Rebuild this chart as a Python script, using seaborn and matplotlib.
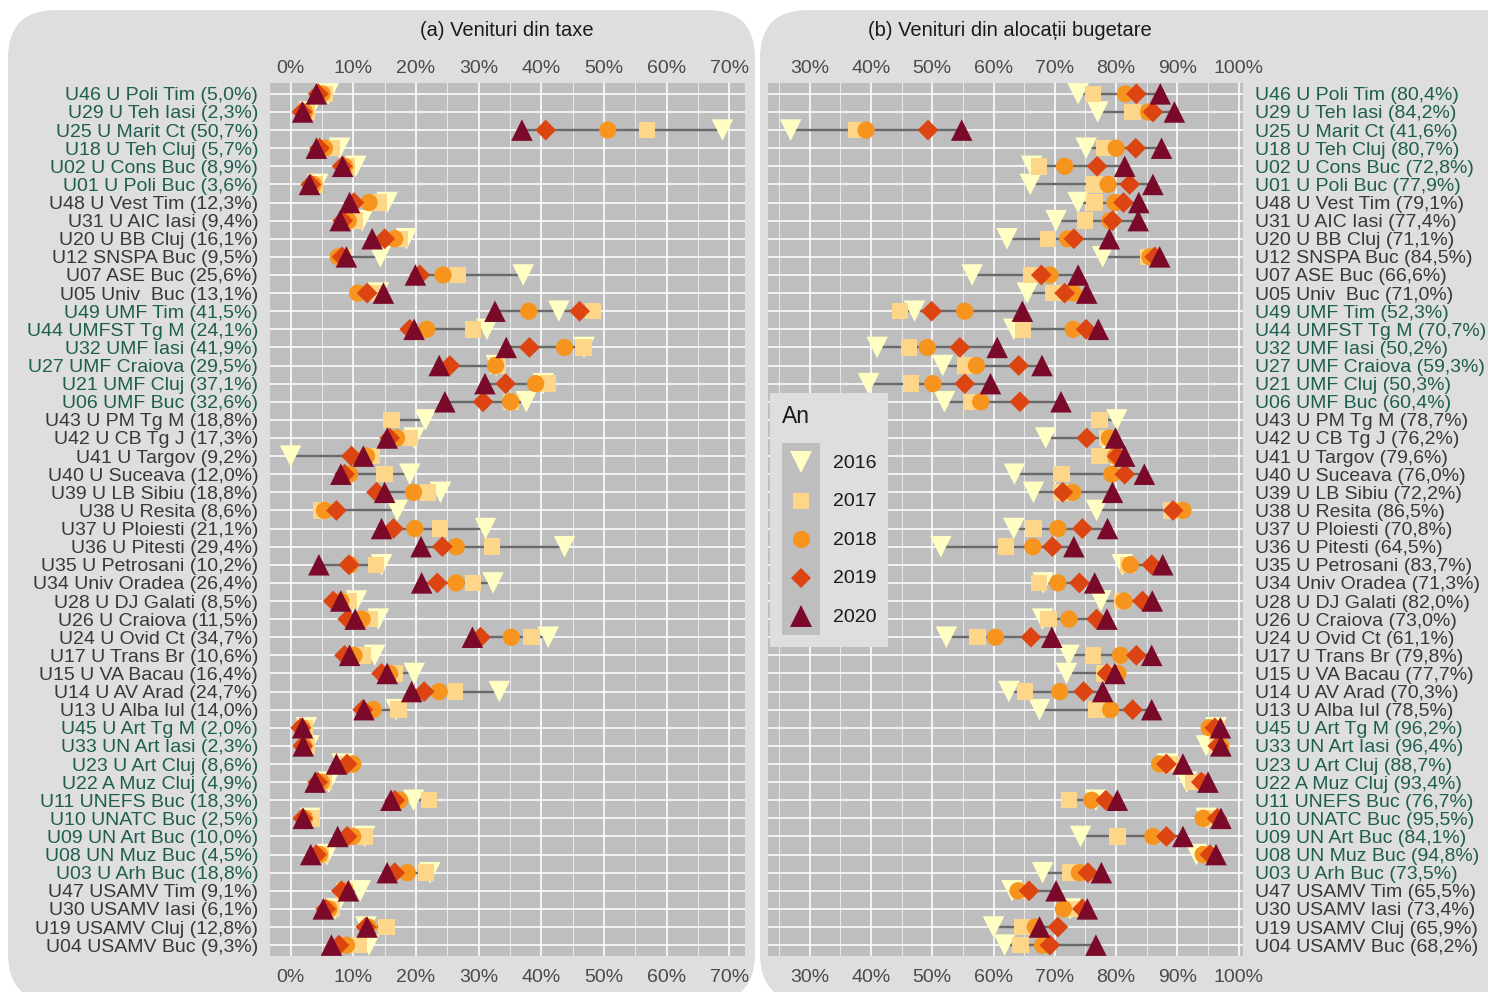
import numpy as np
import pandas as pd
import matplotlib
matplotlib.use("Agg")
import matplotlib.pyplot as plt
import seaborn as sns
from matplotlib.patches import FancyBboxPatch, Rectangle
from matplotlib.lines import Line2D
from matplotlib.legend_handler import HandlerBase
from matplotlib.ticker import MultipleLocator
from matplotlib.transforms import IdentityTransform

nan = np.nan
years = ["2016", "2017", "2018", "2019", "2020"]

names = ["U46 U Poli Tim", "U29 U Teh Iasi", "U25 U Marit Ct", "U18 U Teh Cluj", "U02 U Cons Buc",
         "U01 U Poli Buc", "U48 U Vest Tim", "U31 U AIC Iasi", "U20 U BB Cluj", "U12 SNSPA Buc",
         "U07 ASE Buc", "U05 Univ  Buc", "U49 UMF Tim", "U44 UMFST Tg M", "U32 UMF Iasi",
         "U27 UMF Craiova", "U21 UMF Cluj", "U06 UMF Buc", "U43 U PM Tg M", "U42 U CB Tg J",
         "U41 U Targov", "U40 U Suceava", "U39 U LB Sibiu", "U38 U Resita", "U37 U Ploiesti",
         "U36 U Pitesti", "U35 U Petrosani", "U34 Univ Oradea", "U28 U DJ Galati", "U26 U Craiova",
         "U24 U Ovid Ct", "U17 U Trans Br", "U15 U VA Bacau", "U14 U AV Arad", "U13 U Alba Iul",
         "U45 U Art Tg M", "U33 UN Art Iasi", "U23 U Art Cluj", "U22 A Muz Cluj", "U11 UNEFS Buc",
         "U10 UNATC Buc", "U09 UN Art Buc", "U08 UN Muz Buc", "U03 U Arh Buc", "U47 USAMV Tim",
         "U30 USAMV Iasi", "U19 USAMV Cluj", "U04 USAMV Buc"]

groups = ["T"] * 6 + ["G"] * 6 + ["M"] * 6 + ["G"] * 17 + ["A"] * 9 + ["G"] * 4

pct_taxe = ["5,0", "2,3", "50,7", "5,7", "8,9", "3,6", "12,3", "9,4", "16,1", "9,5", "25,6", "13,1",
            "41,5", "24,1", "41,9", "29,5", "37,1", "32,6", "18,8", "17,3", "9,2", "12,0", "18,8", "8,6",
            "21,1", "29,4", "10,2", "26,4", "8,5", "11,5", "34,7", "10,6", "16,4", "24,7", "14,0",
            "2,0", "2,3", "8,6", "4,9", "18,3", "2,5", "10,0", "4,5", "18,8", "9,1", "6,1", "12,8", "9,3"]

pct_aloc = ["80,4", "84,2", "41,6", "80,7", "72,8", "77,9", "79,1", "77,4", "71,1", "84,5", "66,6", "71,0",
            "52,3", "70,7", "50,2", "59,3", "50,3", "60,4", "78,7", "76,2", "79,6", "76,0", "72,2", "86,5",
            "70,8", "64,5", "83,7", "71,3", "82,0", "73,0", "61,1", "79,8", "77,7", "70,3", "78,5",
            "96,2", "96,4", "88,7", "93,4", "76,7", "95,5", "84,1", "94,8", "73,5", "65,5", "73,4", "65,9", "68,2"]

# (a) Venituri din taxe, % per year
taxe_2016 = [6.0, 3.0, 68.9, 7.8, 10.4, 4.3, 15.4, 11.4, 18.5, 14.3, 37.1, 14.0, 42.8, 31.3, 46.8, 32.8,
             40.3, 37.6, 21.5, 19.7, 0.0, 19.0, 23.9, 17.0, 31.1, 43.7, 14.5, 32.3, 10.5, 14.0, 41.1, 13.4,
             19.7, 33.3, 16.8, 2.5, 2.9, 8.2, 6.1, 19.6, 3.1, 11.8, 5.8, 22.2, 11.1, 7.1, 12.0, 12.5]
taxe_2017 = [5.5, 2.5, 56.9, 6.6, 9.0, 3.9, 14.1, 10.2, 17.4, 8.4, 26.7, 13.8, 48.2, 29.1, 46.7, 33.0,
             41.1, 35.2, 16.1, 19.0, 12.9, 15.0, 21.9, 4.8, 23.8, 32.1, 13.6, 29.1, 9.2, 12.7, 38.4, 11.5,
             16.6, 26.2, 17.2, 2.2, 2.6, 8.6, 5.3, 22.1, 3.3, 11.9, 4.8, 21.6, 8.6, 6.5, 15.3, 10.9]
taxe_2018 = [5.0, 2.2, 50.6, 5.4, 8.6, 3.6, 12.5, 9.2, 16.6, 7.6, 24.3, 10.7, 38.0, 21.7, 43.7, 32.7,
             39.1, 35.1, nan, 16.9, 12.1, 9.4, 19.6, 5.4, 19.8, 26.4, 9.5, 26.4, 8.0, 11.4, 35.2, 10.1,
             15.8, 23.7, 13.2, 1.8, 2.1, 9.9, 4.9, 17.4, 2.2, 9.9, 4.6, 18.6, 8.7, 6.1, 12.4, 8.9]
taxe_2019 = [4.4, 1.8, 40.7, 4.6, 8.2, 3.2, 10.1, 8.3, 15.0, 8.2, 20.6, 12.2, 46.1, 19.0, 38.1, 25.4,
             34.3, 30.7, nan, 15.8, 9.7, 8.6, 13.7, 7.3, 16.4, 24.2, 9.3, 23.4, 6.8, 9.1, 30.3, 8.6,
             14.5, 21.3, 11.5, 1.6, 1.9, 9.0, 4.3, 16.6, 1.9, 9.0, 4.1, 16.6, 8.1, 5.6, 12.0, 7.7]
taxe_2020 = [4.1, 1.9, 36.9, 4.1, 8.3, 3.0, 9.4, 7.9, 13.0, 8.9, 19.9, 14.8, 32.6, 19.7, 34.4, 23.7,
             31.0, 24.6, nan, 15.4, 11.6, 8.0, 15.0, nan, 14.5, 20.8, 4.5, 20.9, 8.0, 10.3, 29.0, 9.4,
             15.4, 19.3, 11.7, 1.9, 2.0, 7.3, 3.9, 16.0, 2.0, 7.5, 3.2, 15.4, 9.2, 5.2, 12.2, 6.5]

# (b) Venituri din alocatii bugetare, % per year
aloc_2016 = [73.8, 77.0, 26.9, 75.1, 66.2, 66.0, 73.8, 70.2, 62.2, 77.8, 56.5, 65.5, 47.1, 63.3, 41.0, 51.7,
             39.6, 52.0, 80.1, 68.5, 79.3, 63.4, 66.5, 76.8, 63.3, 51.4, 81.0, 68.1, 77.5, 68.0, 52.3, 72.3,
             71.9, 62.5, 67.5, 96.3, 94.7, 88.4, 91.5, 76.7, 94.7, 74.2, 93.1, 68.0, 63.0, 72.5, 60.0, 61.8]
aloc_2017 = [76.2, 82.7, 37.6, 78.1, 67.4, 76.5, 76.5, 74.9, 68.9, 85.2, 66.2, 69.7, 44.7, 64.8, 46.2, 55.3,
             46.5, 56.4, 77.3, 78.5, 77.3, 71.1, 71.0, 89.0, 66.5, 62.0, 81.9, 67.4, 81.0, 69.0, 57.4, 76.2,
             78.0, 65.1, 76.8, 96.4, 96.5, 88.9, 92.5, 72.3, 95.0, 80.2, 95.0, 72.5, 64.5, 73.3, 64.6, 64.4]
aloc_2018 = [81.5, 85.3, 39.2, 80.0, 71.6, 78.7, 79.8, 79.0, 72.1, 85.5, 69.2, 73.0, 55.3, 73.0, 49.2, 57.2,
             50.1, 57.9, nan, 78.9, 79.9, 79.3, 72.9, 90.9, 70.5, 66.4, 82.3, 70.5, 81.3, 72.3, 60.3, 80.7,
             80.3, 70.8, 79.1, 95.2, 97.1, 87.1, 94.1, 76.0, 94.2, 86.0, 94.2, 74.0, 64.0, 71.4, 66.8, 68.0]
aloc_2019 = [83.3, 86.0, 49.3, 83.2, 76.9, 82.2, 81.2, 79.4, 73.1, 86.3, 67.8, 71.6, 49.9, 75.1, 54.5, 64.1,
             55.3, 64.3, nan, 75.2, 80.2, 81.4, 71.3, 89.3, 74.5, 69.6, 85.8, 74.0, 84.3, 76.8, 66.1, 83.3,
             78.5, 74.7, 82.7, 96.1, 96.6, 88.2, 93.9, 78.3, 96.5, 88.2, 95.3, 75.4, 65.8, 74.5, 70.5, 69.2]
aloc_2020 = [87.2, 89.5, 54.8, 87.4, 81.4, 86.0, 83.7, 83.6, 78.9, 87.1, 73.8, 75.2, 64.7, 77.1, 60.6, 67.9,
             59.5, 71.0, nan, 79.9, 81.4, 84.6, 79.4, nan, 78.6, 73.1, 87.6, 76.5, 85.9, 78.5, 69.5, 85.8,
             79.8, 77.8, 85.8, 97.0, 97.1, 90.9, 95.0, 80.2, 97.1, 90.9, 96.3, 77.6, 70.2, 75.3, 67.5, 76.7]

ticks_taxe = [0, 10, 20, 30, 40, 50, 60, 70]
ticks_aloc = [30, 40, 50, 60, 70, 80, 90, 100]
title_a = "(a) Venituri din taxe"
title_b = "(b) Venituri din alocații bugetare"
legend_title = "An"

# ---------------- styling ----------------
pal = dict(zip(years, ["#FFFFC4", "#FDD68A", "#F7941D", "#DC4411", "#7B0A2A"]))
mks = dict(zip(years, ["v", "s", "o", "D", "^"]))
szs = dict(zip(years, [240, 140, 155, 112, 240]))
leg_ms = dict(zip(years, [15.5, 11.8, 12.4, 10.6, 15.5]))
GREEN = "#1E5E4E"
GREY = "#383838"
OUTER = "#DEDEDE"
PANEL = "#BEBEBE"

plt.rcParams["font.family"] = ["Liberation Sans", "DejaVu Sans"]

W, H = 1488, 992
fig = plt.figure(figsize=(W / 100, H / 100), dpi=100)
fig.patch.set_facecolor("white")

for (x0, w) in [(8, 747), (760, 780)]:
    fig.add_artist(FancyBboxPatch((x0, -10), w, 992, boxstyle="round,pad=0,rounding_size=48",
                                  transform=IdentityTransform(), facecolor=OUTER, edgecolor="none",
                                  zorder=-5))


def px_axes(l, t, r, b):
    return fig.add_axes([l / W, 1 - b / H, (r - l) / W, (b - t) / H])


ax1 = px_axes(270, 83, 745, 956)
ax2 = px_axes(768, 83, 1243, 956)


def long_df(arrs):
    recs = []
    for y, arr in zip(years, arrs):
        for i, v in enumerate(arr):
            recs.append({"row": i, "An": y, "val": v})
    return pd.DataFrame(recs).dropna()


def draw_panel(ax, arrs, ticks, xlim, labels, right=False):
    ax.set_facecolor(PANEL)
    mat = np.array(arrs, dtype=float)
    rows = np.arange(mat.shape[1])
    lo = np.nanmin(mat, axis=0)
    hi = np.nanmax(mat, axis=0)
    ax.hlines(rows, lo, hi, color="#6A6A6A", lw=1.7, zorder=2)
    df = long_df(arrs)
    sns.scatterplot(data=df, x="val", y="row", hue="An", style="An", size="An",
                    palette=pal, markers=mks, sizes=szs, hue_order=years, style_order=years,
                    size_order=years, linewidth=0, legend=False, ax=ax, zorder=3)
    ax.set_xlim(*xlim)
    ax.set_ylim(47.6, -0.6)
    ax.set_xticks(ticks)
    ax.set_xticklabels([f"{t}%" for t in ticks])
    ax.xaxis.set_minor_locator(MultipleLocator(5))
    ax.set_yticks(rows)
    ax.set_yticklabels(labels)
    ax.set_axisbelow(True)
    ax.grid(True, which="major", color="white", lw=1.15)
    ax.grid(True, which="minor", axis="x", color="white", lw=0.55, alpha=0.85)
    ax.set_xlabel("")
    ax.set_ylabel("")
    for s in ax.spines.values():
        s.set_visible(False)
    ax.tick_params(axis="x", which="both", length=0, labelsize=14, labelcolor="#4A4A4A", pad=9.5)
    ax.tick_params(axis="y", which="both", length=0, labelsize=14, pad=8.5)
    if right:
        ax.yaxis.tick_right()
        ax.tick_params(axis="y", labelleft=False, labelright=True, length=0)
    for tk, g in zip(ax.yaxis.get_major_ticks(), groups):
        c = GREY if g == "G" else GREEN
        tk.label1.set_color(c)
        tk.label2.set_color(c)
    sec = ax.secondary_xaxis("top")
    sec.set_xticks(ticks)
    sec.set_xticklabels([f"{t}%" for t in ticks])
    sec.tick_params(axis="x", length=0, labelsize=14, labelcolor="#4A4A4A", pad=4.5)
    for s in sec.spines.values():
        s.set_visible(False)


labels_a = [f"{n} ({p}%)" for n, p in zip(names, pct_taxe)]
labels_b = [f"{n} ({p}%)" for n, p in zip(names, pct_aloc)]

draw_panel(ax1, [taxe_2016, taxe_2017, taxe_2018, taxe_2019, taxe_2020], ticks_taxe, (-3.3, 72.5), labels_a)
draw_panel(ax2, [aloc_2016, aloc_2017, aloc_2018, aloc_2019, aloc_2020], ticks_aloc, (23.2, 100.7),
           labels_b, right=True)

fig.text(507 / W, 1 - 30 / H, title_a, ha="center", va="center", fontsize=14.5, color="#1A1A1A")
fig.text(1010 / W, 1 - 30 / H, title_b, ha="center", va="center", fontsize=14.5, color="#1A1A1A")


class KeyHandler(HandlerBase):
    def __init__(self, year):
        super().__init__()
        self.year = year

    def create_artists(self, legend, orig_handle, xdescent, ydescent, width, height, fontsize, trans):
        bg = Rectangle((-xdescent, -ydescent), width, height, facecolor=PANEL,
                       edgecolor="none", transform=trans)
        mk = Line2D([width / 2 - xdescent], [height / 2 - ydescent], marker=mks[self.year],
                    color=pal[self.year], markersize=leg_ms[self.year], linestyle="none",
                    markeredgewidth=0, transform=trans)
        return [bg, mk]


handles = [Line2D([], []) for _ in years]
hmap = {h: KeyHandler(y) for h, y in zip(handles, years)}
leg = ax2.legend(handles=handles, labels=years, handler_map=hmap, title=legend_title,
                 loc="upper left", bbox_to_anchor=(0.004, 0.645), borderaxespad=0,
                 fontsize=14, title_fontsize=16.5, labelspacing=0, handleheight=2.67,
                 handlelength=2.0, handletextpad=0.62, borderpad=0.6, frameon=True,
                 fancybox=False, facecolor=OUTER, edgecolor="none", framealpha=1,
                 alignment="left")
leg._legend_box.sep = 11
leg.set_zorder(10)
leg.get_title().set_color("#1A1A1A")
for t in leg.get_texts():
    t.set_color("#1A1A1A")

fig.savefig("out.png", dpi=100)
